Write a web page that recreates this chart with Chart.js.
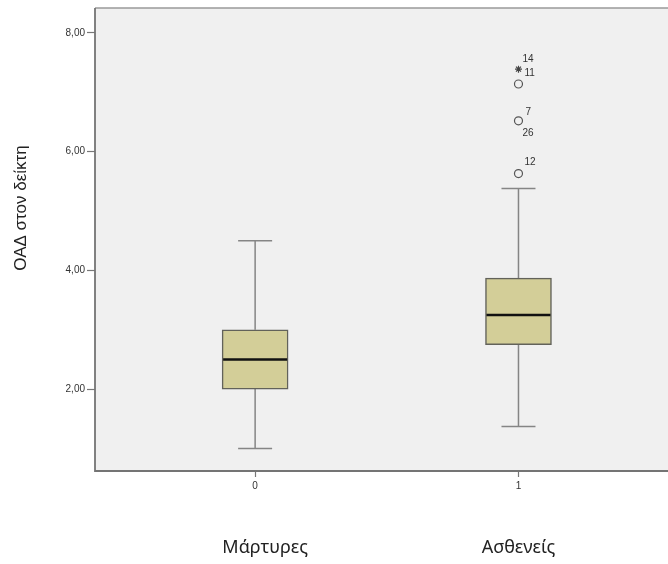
<!DOCTYPE html>
<html>
<head>
<meta charset="utf-8">
<script src="https://cdn.jsdelivr.net/npm/chart.js@4"></script>
<style>
  html, body { margin: 0; padding: 0; background: #fff; }
</style>
</head>
<body>
<canvas id="box" width="668" height="564"></canvas>
<script>
// groups (x tick labels and names underneath)
const groups = ["0", "1"];
const groupNames = ["Μάρτυρες", "Ασθενείς"];

// box statistics per group
const whiskerLow = [1.00, 1.37];
const q1 = [2.00, 2.75];
const median = [2.50, 3.25];
const q3 = [3.00, 3.87];
const whiskerHigh = [4.50, 5.38];

// outliers (all in group 1)
const outlierValues = [5.63, 6.52, 7.14];
const outlierIds = [["12"], ["7", "26"], []];
const extremeValues = [7.39];
const extremeIds = [["14", "11"]];

const yTicks = [2, 4, 6, 8];
const yTitle = "ΟΑΔ στον δείκτη";

const fmt = v => v.toFixed(2).replace(".", ",");

// background, frame, whiskers, medians, case labels, texts
const boxExtras = {
  id: "boxExtras",
  beforeDatasetsDraw(chart) {
    const { ctx, chartArea: a, scales: { x, y } } = chart;
    ctx.save();
    ctx.fillStyle = "#f0f0f0";
    ctx.fillRect(a.left, a.top, chart.width - a.left, a.bottom - a.top);
    ctx.strokeStyle = "#9a9a9a";
    ctx.lineWidth = 1.5;
    ctx.beginPath();
    ctx.moveTo(a.left, a.top);
    ctx.lineTo(chart.width, a.top);
    ctx.stroke();
    // left and bottom frame, bottom runs to the edge of the picture
    ctx.strokeStyle = "#747474";
    ctx.lineWidth = 1.8;
    ctx.beginPath();
    ctx.moveTo(a.left, a.top);
    ctx.lineTo(a.left, a.bottom);
    ctx.lineTo(chart.width, a.bottom);
    ctx.stroke();

    // whiskers
    ctx.strokeStyle = "#858585";
    ctx.lineWidth = 1.5;
    groups.forEach((g, i) => {
      const cx = x.getPixelForValue(i);
      const cap = 17;
      [[q3[i], whiskerHigh[i]], [q1[i], whiskerLow[i]]].forEach(([from, to]) => {
        ctx.beginPath();
        ctx.moveTo(cx, y.getPixelForValue(from));
        ctx.lineTo(cx, y.getPixelForValue(to));
        ctx.moveTo(cx - cap, y.getPixelForValue(to));
        ctx.lineTo(cx + cap, y.getPixelForValue(to));
        ctx.stroke();
      });
    });
    ctx.restore();
  },
  afterDatasetsDraw(chart) {
    const { ctx, scales: { x, y } } = chart;
    ctx.save();
    ctx.strokeStyle = "#111";
    ctx.lineWidth = 2.5;
    groups.forEach((g, i) => {
      const cx = x.getPixelForValue(i);
      ctx.beginPath();
      ctx.moveTo(cx - 32, y.getPixelForValue(median[i]));
      ctx.lineTo(cx + 32, y.getPixelForValue(median[i]));
      ctx.stroke();
    });

    // case numbers next to outliers
    ctx.fillStyle = "#333";
    ctx.font = "10px 'Liberation Sans', Arial, sans-serif";
    ctx.textAlign = "left";
    ctx.textBaseline = "middle";
    const px = x.getPixelForValue(1);
    outlierIds.forEach((ids, k) => {
      const py = y.getPixelForValue(outlierValues[k]);
      if (ids.length === 1) ctx.fillText(ids[0], px + 6, py - 11);
      if (ids.length === 2) {
        ctx.fillText(ids[0], px + 7, py - 9);
        ctx.fillText(ids[1], px + 4, py + 12);
      }
    });
    extremeIds.forEach((ids, k) => {
      const py = y.getPixelForValue(extremeValues[k]);
      ctx.fillText(ids[0], px + 4, py - 10);
      ctx.fillText(ids[1], px + 6, py + 4);
    });
    ctx.restore();
  },
  afterDraw(chart) {
    const { ctx, scales: { x } } = chart;
    ctx.save();
    ctx.fillStyle = "#222";
    ctx.textAlign = "center";
    ctx.textBaseline = "middle";
    ctx.font = "18px 'Noto Sans', sans-serif";
    groupNames.forEach((n, i) => {
      ctx.fillText(n, x.getPixelForValue(i) + (i === 0 ? 10 : 0), 548);
    });
    ctx.translate(21, 208);
    ctx.rotate(-Math.PI / 2);
    ctx.font = "17px 'Liberation Sans', Arial, sans-serif";
    ctx.fillText(yTitle, 0, 0);
    ctx.restore();
  }
};

const tickFont = { family: "'Liberation Sans', Arial, sans-serif", size: 10 };

new Chart(document.getElementById("box"), {
  type: "bar",
  data: {
    datasets: [
      {
        type: "bar",
        data: groups.map((g, i) => ({ x: i, y: [q1[i], q3[i]] })),
        backgroundColor: "#d3ce98",
        borderColor: "#62625a",
        borderWidth: 1.5,
        borderSkipped: false,
        barThickness: 66,
        order: 2
      },
      {
        type: "scatter",
        data: outlierValues.map(v => ({ x: 1, y: v })),
        pointStyle: "circle",
        pointRadius: 4,
        borderColor: "#555",
        backgroundColor: "rgba(0,0,0,0)",
        borderWidth: 1.2,
        order: 1
      },
      {
        type: "scatter",
        data: extremeValues.map(v => ({ x: 1, y: v })),
        pointStyle: "star",
        pointRadius: 3.5,
        borderColor: "#444",
        borderWidth: 1.2,
        order: 1
      }
    ]
  },
  options: {
    responsive: false,
    animation: false,
    layout: { padding: { top: 8, right: 0, left: 0, bottom: 0 } },
    plugins: { legend: { display: false }, tooltip: { enabled: false } },
    scales: {
      x: {
        type: "linear",
        offset: false,
        min: -0.608,
        max: 1.548,
        afterBuildTicks: s => { s.ticks = groups.map((g, i) => ({ value: i })); },
        afterFit: s => { s.height = 93; },
        ticks: {
          callback: (v, i) => groups[i],
          font: tickFont,
          color: "#333",
          padding: 3,
          maxRotation: 0
        },
        grid: { offset: false, drawOnChartArea: false, tickLength: 6, color: "#777", tickWidth: 1.2 },
        border: { display: false }
      },
      y: {
        min: 0.62,
        max: 8.42,
        afterBuildTicks: s => { s.ticks = yTicks.map(v => ({ value: v })); },
        afterFit: s => { s.width = 95; },
        ticks: {
          callback: v => fmt(v),
          font: tickFont,
          color: "#333",
          padding: 2
        },
        grid: { drawOnChartArea: false, tickLength: 8, color: "#777", tickWidth: 1.2 },
        border: { display: false }
      }
    }
  },
  plugins: [boxExtras]
});
</script>
</body>
</html>
